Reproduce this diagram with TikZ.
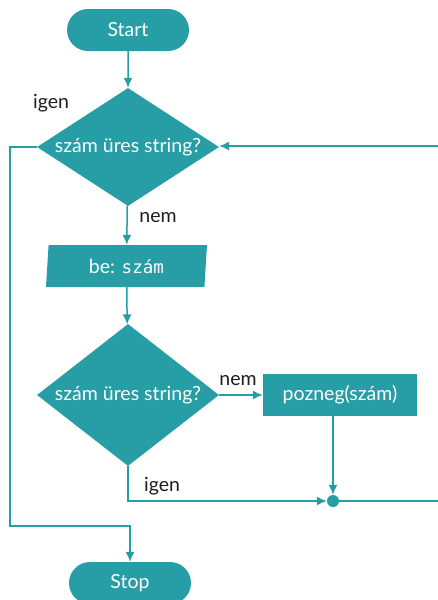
\documentclass[tikz,border=0pt]{standalone}
\usepackage{fontspec}
\setmainfont{Lato}
\newfontfamily\codefont{DejaVu Sans Mono}[Scale=0.9]
\usetikzlibrary{shapes.geometric,shapes.misc,arrows.meta}
\definecolor{tealc}{RGB}{39,157,166}
\definecolor{labelc}{RGB}{30,30,30}
\begin{document}
\begin{tikzpicture}[x=1pt,y=-1pt,
  every node/.style={font=\fontsize{19.5}{22}\selectfont},
  terminal/.style={rounded rectangle, fill=tealc, text=white, minimum width=122pt, minimum height=42pt, inner sep=0pt},
  decision/.style={diamond, fill=tealc, text=white, inner sep=0pt, minimum width=182pt},
  iobox/.style={trapezium, trapezium left angle=80, trapezium right angle=100, trapezium stretches body, fill=tealc, text=white, minimum width=161pt, minimum height=42pt, inner sep=0pt},
  procbox/.style={rectangle, fill=tealc, text=white, minimum width=154pt, minimum height=42pt, inner sep=0pt},
  flow/.style={draw=tealc, line width=1.5pt, -{Latex[length=10pt,width=9pt]}},
  plain/.style={draw=tealc, line width=1.5pt},
  lbl/.style={text=labelc, inner sep=0pt}
]
\useasboundingbox (0,0) rectangle (438,600);
\clip (0,0) rectangle (438,600);

\node[terminal] (start) at (128,30) {Start};
\node[decision, aspect=1.54, minimum height=118pt] (d1) at (128,147) {szám üres string?};
\node[iobox] (in) at (126.5,266) {be: {\codefont szám}};
\node[decision, aspect=1.28, minimum height=142pt] (d2) at (128,395) {szám üres string?};
\node[procbox] (proc) at (340,395) {pozneg(szám)};
\node[circle, fill=tealc, inner sep=0pt, minimum size=12pt] (dot) at (333,501) {};
\node[terminal] (stop) at (130,583) {Stop};

\coordinate (lc) at (10,526);
\coordinate (re1) at (441,501);
\coordinate (re2) at (441,146);

\node[lbl] (igen1) at (51,103) {igen};
\node[lbl] (nem1) at (158,218) {nem};
\node[lbl] (nem2) at (238,381) {nem};
\node[lbl] (igen2) at (162,486) {igen};

\draw[flow] (start) -- (d1);
\draw[flow] (d1) -- (in);
\draw[flow] (in) -- (d2);
\draw[flow] (d2.east) -- (proc.west);
\draw[flow] (dot |- proc.south) -- (dot);
\draw[flow] (d2.south) |- (dot);
\draw[plain] (dot) -- (re1) -- (re2);
\draw[flow] (re2) -- (re2 -| d1.east);
\draw[flow] (d1.west) -| (lc) -| (stop.north);
\end{tikzpicture}
\end{document}
